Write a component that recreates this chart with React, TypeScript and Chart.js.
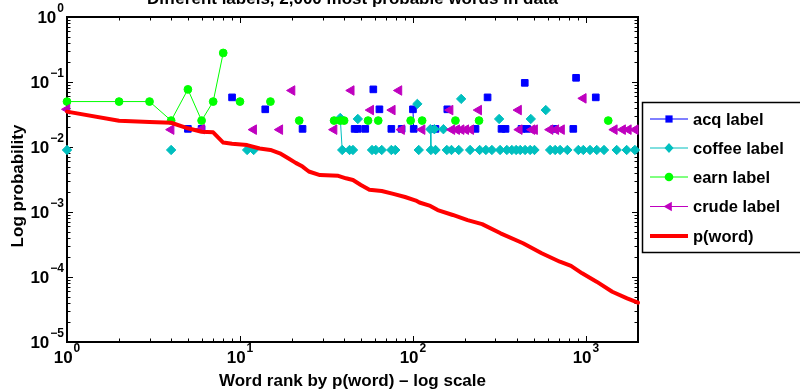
import React, { useEffect, useRef } from 'react';
import { Chart, registerables } from 'chart.js';

Chart.register(...registerables);

// ---------- text ----------
const TITLE = 'Different labels, 2,000 most probable words in data';
const X_TITLE = 'Word rank by p(word) \u2013 log scale';
const Y_TITLE = 'Log probability';

// ---------- axes ----------
const X_MIN = 1;
const X_MAX = 2000;
const Y_MIN = 1e-5;
const Y_MAX = 1;
const X_DECADES = [0, 1, 2, 3];
const Y_DECADES = [-5, -4, -3, -2, -1, 0];

// ---------- series (word rank, probability) ----------
const acqRanks = [5, 6, 9, 14, 23, 46, 48, 53, 59, 64, 75, 86, 100, 101, 135, 158, 230, 270, 325, 343, 424, 443, 457, 655, 845, 877, 1140];
const acqValues = [0.019, 0.019, 0.058, 0.038, 0.019, 0.019, 0.019, 0.019, 0.077, 0.038, 0.019, 0.019, 0.038, 0.019, 0.019, 0.038, 0.019, 0.058, 0.019, 0.019, 0.019, 0.097, 0.019, 0.019, 0.019, 0.116, 0.058];

const coffeeRanks = [1, 4, 11, 12, 38, 39, 43, 45, 48, 58, 61, 66, 75, 79, 106, 108, 126, 127, 133, 135, 150, 157, 167, 184, 190, 214, 243, 264, 286, 315, 319, 349, 373, 395, 417, 445, 476, 480, 504, 586, 621, 664, 709, 781, 904, 966, 1056, 1155, 1272, 1506, 1720, 1919];
const coffeeValues = [0.009, 0.009, 0.009, 0.009, 0.028, 0.009, 0.009, 0.009, 0.027, 0.009, 0.009, 0.009, 0.009, 0.009, 0.046, 0.009, 0.0188, 0.009, 0.0188, 0.009, 0.0188, 0.009, 0.009, 0.009, 0.055, 0.009, 0.009, 0.009, 0.009, 0.027, 0.009, 0.009, 0.009, 0.009, 0.009, 0.009, 0.009, 0.027, 0.009, 0.037, 0.009, 0.009, 0.009, 0.009, 0.009, 0.009, 0.009, 0.009, 0.009, 0.009, 0.009, 0.009];

const earnRanks = [1, 2, 3, 4, 5, 6, 7, 8, 10, 15, 22, 35, 38, 40, 55, 63, 97, 113, 176, 241, 1346];
const earnValues = [0.05, 0.05, 0.05, 0.0255, 0.077, 0.0255, 0.05, 0.28, 0.05, 0.05, 0.0255, 0.0255, 0.0255, 0.0255, 0.0255, 0.0255, 0.0255, 0.0255, 0.0255, 0.0255, 0.0255];

const crudeRanks = [1, 4, 6, 12, 17, 20, 35, 44, 57, 76, 83, 86, 113, 164, 168, 179, 190, 202, 216, 240, 408, 412, 488, 505, 621, 670, 723, 966, 1460, 1630, 1760, 1930];
const crudeValues = [0.038, 0.0185, 0.0188, 0.0185, 0.0185, 0.074, 0.0185, 0.074, 0.037, 0.037, 0.074, 0.0185, 0.0185, 0.037, 0.0185, 0.0185, 0.0185, 0.0185, 0.0185, 0.037, 0.037, 0.0185, 0.0185, 0.0185, 0.0185, 0.0185, 0.0185, 0.056, 0.0185, 0.0185, 0.0185, 0.0185];

const pWordRanks = [1, 2, 3, 4, 5, 6, 7, 8, 9, 11, 13, 15, 17, 19, 21, 23, 25, 29, 37, 41, 45, 50, 56, 66, 77, 90, 104, 109, 126, 139, 170, 207, 251, 321, 433, 555, 707, 820, 951, 1152, 1420, 1730, 2000];
const pWordValues = [0.035, 0.0254, 0.0242, 0.0236, 0.0194, 0.0172, 0.0168, 0.0117, 0.0112, 0.0107, 0.0095, 0.009, 0.008, 0.0067, 0.0057, 0.005, 0.0042, 0.0037, 0.0036, 0.0033, 0.0031, 0.0026, 0.0022, 0.0021, 0.0019, 0.0017, 0.0015, 0.0014, 0.00124, 0.00107, 0.0009, 0.00075, 0.00065, 0.00047, 0.00033, 0.000232, 0.000172, 0.000148, 0.000114, 0.0000847, 0.0000594, 0.000047, 0.0000403];

const FONT = '"Liberation Sans", Arial, Helvetica, sans-serif';

// label series: lines only join consecutive ranks (like NaN gaps in the original)
function toGappedPoints(ranks: number[], values: number[]) {
  const pts: { x: number; y: number | null }[] = [];
  for (let i = 0; i < ranks.length; i++) {
    if (i > 0 && ranks[i] - ranks[i - 1] > 1) {
      pts.push({ x: (ranks[i] + ranks[i - 1]) / 2, y: null });
    }
    pts.push({ x: ranks[i], y: values[i] });
  }
  return pts;
}

function toPoints(ranks: number[], values: number[]) {
  return ranks.map((r, i) => ({ x: r, y: values[i] }));
}

function drawMarker(ctx: CanvasRenderingContext2D, style: string, cx: number, cy: number, color: string) {
  ctx.save();
  ctx.fillStyle = color;
  ctx.beginPath();
  if (style === 'rect') {
    ctx.rect(cx - 3.6, cy - 3.6, 7.2, 7.2);
  } else if (style === 'rectRot') {
    ctx.moveTo(cx, cy - 5);
    ctx.lineTo(cx + 4.5, cy);
    ctx.lineTo(cx, cy + 5);
    ctx.lineTo(cx - 4.5, cy);
    ctx.closePath();
  } else if (style === 'circle') {
    ctx.arc(cx, cy, 4.3, 0, Math.PI * 2);
  } else if (style === 'triangle') {
    ctx.moveTo(cx - 5.5, cy);
    ctx.lineTo(cx + 2.8, cy - 4.8);
    ctx.lineTo(cx + 2.8, cy + 4.8);
    ctx.closePath();
  }
  ctx.fill();
  ctx.restore();
}

const axesPlugin = {
  id: 'matlabAxes',
  beforeDatasetsDraw(chart: any) {
    const { ctx, chartArea: a, scales } = chart;
    const xs = scales.x;
    const ys = scales.y;
    ctx.save();
    ctx.strokeStyle = '#000';
    ctx.lineWidth = 1;
    for (const d of X_DECADES) {
      for (let k = 1; k <= 9; k++) {
        const v = k * Math.pow(10, d);
        if (v < X_MIN || v > X_MAX) continue;
        const px = Math.round(xs.getPixelForValue(v)) + 0.5;
        const len = k === 1 ? 6 : 3.5;
        ctx.beginPath();
        ctx.moveTo(px, a.bottom);
        ctx.lineTo(px, a.bottom - len);
        ctx.moveTo(px, a.top);
        ctx.lineTo(px, a.top + len);
        ctx.stroke();
      }
    }
    for (const d of Y_DECADES) {
      for (let k = 1; k <= 9; k++) {
        const v = k * Math.pow(10, d);
        if (v < Y_MIN || v > Y_MAX) continue;
        const py = Math.round(ys.getPixelForValue(v)) + 0.5;
        const len = k === 1 ? 6 : 3.5;
        ctx.beginPath();
        ctx.moveTo(a.left, py);
        ctx.lineTo(a.left + len, py);
        ctx.moveTo(a.right, py);
        ctx.lineTo(a.right - len, py);
        ctx.stroke();
      }
    }
    ctx.lineWidth = 2;
    ctx.strokeRect(a.left, a.top, a.right - a.left, a.bottom - a.top);

    const baseFont = `bold 17px ${FONT}`;
    const expFont = `bold 12px ${FONT}`;
    ctx.fillStyle = '#000';
    ctx.textBaseline = 'middle';
    ctx.textAlign = 'left';
    for (const d of X_DECADES) {
      const px = xs.getPixelForValue(Math.pow(10, d));
      const exp = d < 0 ? '\u2212' + -d : String(d);
      ctx.font = baseFont;
      const wb = ctx.measureText('10').width;
      ctx.font = expFont;
      const we = ctx.measureText(exp).width;
      const x0 = px - (wb + we + 1) / 2;
      ctx.font = baseFont;
      ctx.fillText('10', x0, a.bottom + 16);
      ctx.font = expFont;
      ctx.fillText(exp, x0 + wb + 1, a.bottom + 7);
    }
    for (const d of Y_DECADES) {
      const py = ys.getPixelForValue(Math.pow(10, d));
      const exp = d < 0 ? '\u2212' + -d : String(d);
      ctx.font = baseFont;
      const wb = ctx.measureText('10').width;
      ctx.font = expFont;
      const we = ctx.measureText(exp).width;
      const right = a.left - 3;
      ctx.font = baseFont;
      ctx.fillText('10', right - we - 1 - wb, py + 1);
      ctx.font = expFont;
      ctx.fillText(exp, right - we, py - 8);
    }

    ctx.font = `bold 17px ${FONT}`;
    ctx.textAlign = 'center';
    ctx.fillText(X_TITLE, (a.left + a.right) / 2, 381);
    ctx.save();
    ctx.translate(18, 186);
    ctx.rotate(-Math.PI / 2);
    ctx.fillText(Y_TITLE, 0, 0);
    ctx.restore();

    ctx.textBaseline = 'alphabetic';
    ctx.fillText(TITLE, (a.left + a.right) / 2, 4);
    ctx.restore();
  },
};

const legendPlugin = {
  id: 'matlabLegend',
  afterDraw(chart: any) {
    const { ctx } = chart;
    const left = 642;
    const top = 102;
    const rowY = [119, 148, 177, 206.5, 236];
    ctx.save();
    ctx.fillStyle = '#fff';
    ctx.fillRect(left, top, 180, 150);
    ctx.strokeStyle = '#000';
    ctx.lineWidth = 1.5;
    ctx.strokeRect(left + 0.5, top + 0.5, 180, 150);
    chart.data.datasets.forEach((ds: any, i: number) => {
      const y = rowY[i];
      ctx.strokeStyle = ds.borderColor;
      ctx.lineWidth = ds.borderWidth;
      ctx.beginPath();
      ctx.moveTo(650, y);
      ctx.lineTo(688, y);
      ctx.stroke();
      if (ds.pointRadius > 0) drawMarker(ctx, ds.pointStyle, 669, y, ds.pointBackgroundColor);
      ctx.fillStyle = '#000';
      ctx.font = `bold 16.5px ${FONT}`;
      ctx.textAlign = 'left';
      ctx.textBaseline = 'middle';
      ctx.fillText(ds.label, 693, y + 1);
    });
    ctx.restore();
  },
};

function markerSeries(label: string, ranks: number[], values: number[], color: string, style: string, radius: number, order: number, rotation = 0) {
  return {
    label,
    data: toGappedPoints(ranks, values),
    borderColor: color,
    backgroundColor: color,
    borderWidth: 1,
    pointStyle: style,
    pointRotation: rotation,
    pointRadius: radius,
    pointHoverRadius: radius,
    pointBackgroundColor: color,
    pointBorderColor: color,
    pointBorderWidth: 1,
    spanGaps: false,
    tension: 0,
    clip: false,
    order,
  };
}

export default function App() {
  const ref = useRef<HTMLCanvasElement>(null);
  useEffect(() => {
    const canvas = ref.current;
    if (!canvas) return;
    const chart = new Chart(canvas, {
      type: 'line',
      data: {
        datasets: [
          markerSeries('acq label', acqRanks, acqValues, '#0000ff', 'rect', 4.7, 5),
          markerSeries('coffee label', coffeeRanks, coffeeValues, '#00bfbf', 'rectRot', 4.7, 4),
          markerSeries('earn label', earnRanks, earnValues, '#00ff00', 'circle', 3.9, 3),
          markerSeries('crude label', crudeRanks, crudeValues, '#bf00bf', 'triangle', 5.5, 2, -90),
          {
            label: 'p(word)',
            data: toPoints(pWordRanks, pWordValues),
            borderColor: '#ff0000',
            backgroundColor: '#ff0000',
            borderWidth: 4,
            pointRadius: 0,
            pointHoverRadius: 0,
            pointStyle: 'circle',
            pointBackgroundColor: '#ff0000',
            borderJoinStyle: 'round',
            borderCapStyle: 'round',
            spanGaps: true,
            tension: 0,
            clip: false,
            order: 1,
          },
        ] as any,
      },
      options: {
        responsive: false,
        animation: false,
        devicePixelRatio: 1,
        events: [],
        layout: { padding: { left: 0, right: 162, top: 17, bottom: 0 } },
        plugins: {
          legend: { display: false },
          tooltip: { enabled: false },
          title: { display: false },
        },
        scales: {
          x: {
            type: 'logarithmic',
            min: X_MIN,
            max: X_MAX,
            grid: { display: false },
            border: { display: false },
            ticks: { display: false },
            afterFit: (s: any) => {
              s.height = 50;
            },
          },
          y: {
            type: 'logarithmic',
            min: Y_MIN,
            max: Y_MAX,
            grid: { display: false },
            border: { display: false },
            ticks: { display: false },
            afterFit: (s: any) => {
              s.width = 67;
            },
          },
        },
      } as any,
      plugins: [axesPlugin, legendPlugin],
    });
    return () => chart.destroy();
  }, []);
  return (
    <div style={{ position: 'fixed', left: 0, top: 0, width: 800, height: 392, background: '#fff' }}>
      <canvas ref={ref} width={800} height={392} style={{ display: 'block' }} />
    </div>
  );
}
